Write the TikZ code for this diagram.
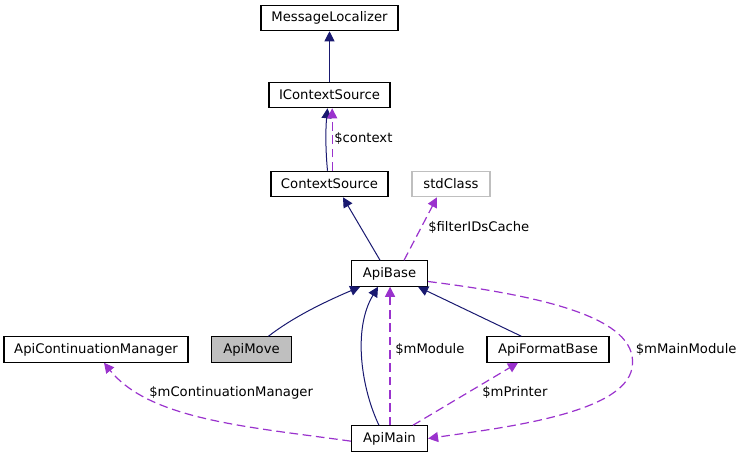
\documentclass[tikz,border=0pt]{standalone}
\usepackage{fontspec}
\setmainfont{DejaVu Sans}
\usetikzlibrary{arrows.meta}
\definecolor{inhblue}{HTML}{191970}
\definecolor{usepurple}{HTML}{9A32CD}

\begin{document}
\begin{tikzpicture}[x=0.75pt,y=-0.75pt,
      klass/.style={
         rectangle,
         draw=black,
         line width=0.9pt,
         minimum height=19pt,
         inner sep=0pt,
         font=\fontsize{9.9pt}{11pt}\selectfont
      },
      external/.style={klass,draw=black!25},
      current/.style={klass,fill=black!25},
      tip/.style={-{Triangle[length=7.5pt,width=7.5pt]}},
      inherit/.style={tip,draw=inhblue,line width=0.75pt},
      uses/.style={tip,draw=usepurple,line width=0.9pt,dash pattern=on 6.5pt off 3.5pt},
      edgelabel/.style={anchor=west,inner sep=0pt,font=\fontsize{9.9pt}{11pt}\selectfont}
    ]
    \useasboundingbox (0,0) rectangle (741,457);
    % classes
    \node (msgloc) [klass, minimum width=102.75pt] at (329.5,18) {MessageLocalizer};
    \node (icontext) [klass, minimum width=90.75pt] at (329.5,95) {IContextSource};
    \node (context) [klass, minimum width=87.75pt] at (329.5,184) {ContextSource};
    \node (std) [external, minimum width=58.5pt] at (451,184) {stdClass};
    \node (apibase) [klass, minimum width=57pt] at (389.5,273.5) {ApiBase};
    \node (contmgr) [klass, minimum width=138pt] at (96,349.5) {ApiContinuationManager};
    \node (apimove) [current, minimum width=60pt] at (251.5,349.5) {ApiMove};
    \node (fmtbase) [klass, minimum width=91.5pt] at (548,349.5) {ApiFormatBase};
    \node (apimain) [klass, minimum width=57pt] at (389.5,438.5) {ApiMain};
    % inheritance
    \draw[inherit] (icontext) -- (msgloc);
    \draw[inherit] ([xshift=-1.5pt]context.north) .. controls (325.5,150) and (325.5,130) .. ([xshift=-1.5pt]icontext.south);
    \draw[inherit] ([xshift=-7.1pt]apibase.north) -- ([xshift=10.1pt]context.south);
    \draw[inherit] ([xshift=12.7pt]apimove.north) .. controls (292,318) and (322,303) .. ([xshift=-22pt]apibase.south);
    \draw[inherit] ([xshift=-7.9pt]apimain.north) .. controls (362,390) and (352,330) .. ([xshift=-8.6pt]apibase.south);
    \draw[inherit] ([xshift=-20pt]fmtbase.north) -- ([xshift=21.4pt]apibase.south);
    % usage
    \draw[uses] ([xshift=2pt]context.north) -- ([xshift=2pt]icontext.south);
    \node (lcontext) [edgelabel] at (334,138) {\$context};
    \draw[uses] ([xshift=10.9pt]apibase.north) -- ([xshift=-10.5pt]std.south);
    \node (lfilter) [edgelabel] at (428,227) {\$filterIDsCache};
    \draw[uses] ([xshift=0.4pt]apimain.north) -- ([xshift=0.4pt]apibase.south);
    \node (lmodule) [edgelabel] at (395,349) {\$mModule};
    \draw[uses] ([xshift=17.6pt]apimain.north) -- ([xshift=-22.5pt]fmtbase.south);
    \node (lprinter) [edgelabel] at (482,392.5) {\$mPrinter};
    \draw[uses] ([yshift=-6pt]apibase.east) .. controls (560,298) and (640,322) .. (632,368)
       .. controls (624,414) and (500,428) .. (apimain.east);
    \node (lmainmod) [edgelabel] at (635.5,349) {\$mMainModule};
    \draw[uses] ([yshift=-2pt]apimain.west) .. controls (250,427) and (150,420) .. ([xshift=6pt]contmgr.south);
    \node (lcontmgr) [edgelabel] at (149,392.5) {\$mContinuationManager};
\end{tikzpicture}
\end{document}
